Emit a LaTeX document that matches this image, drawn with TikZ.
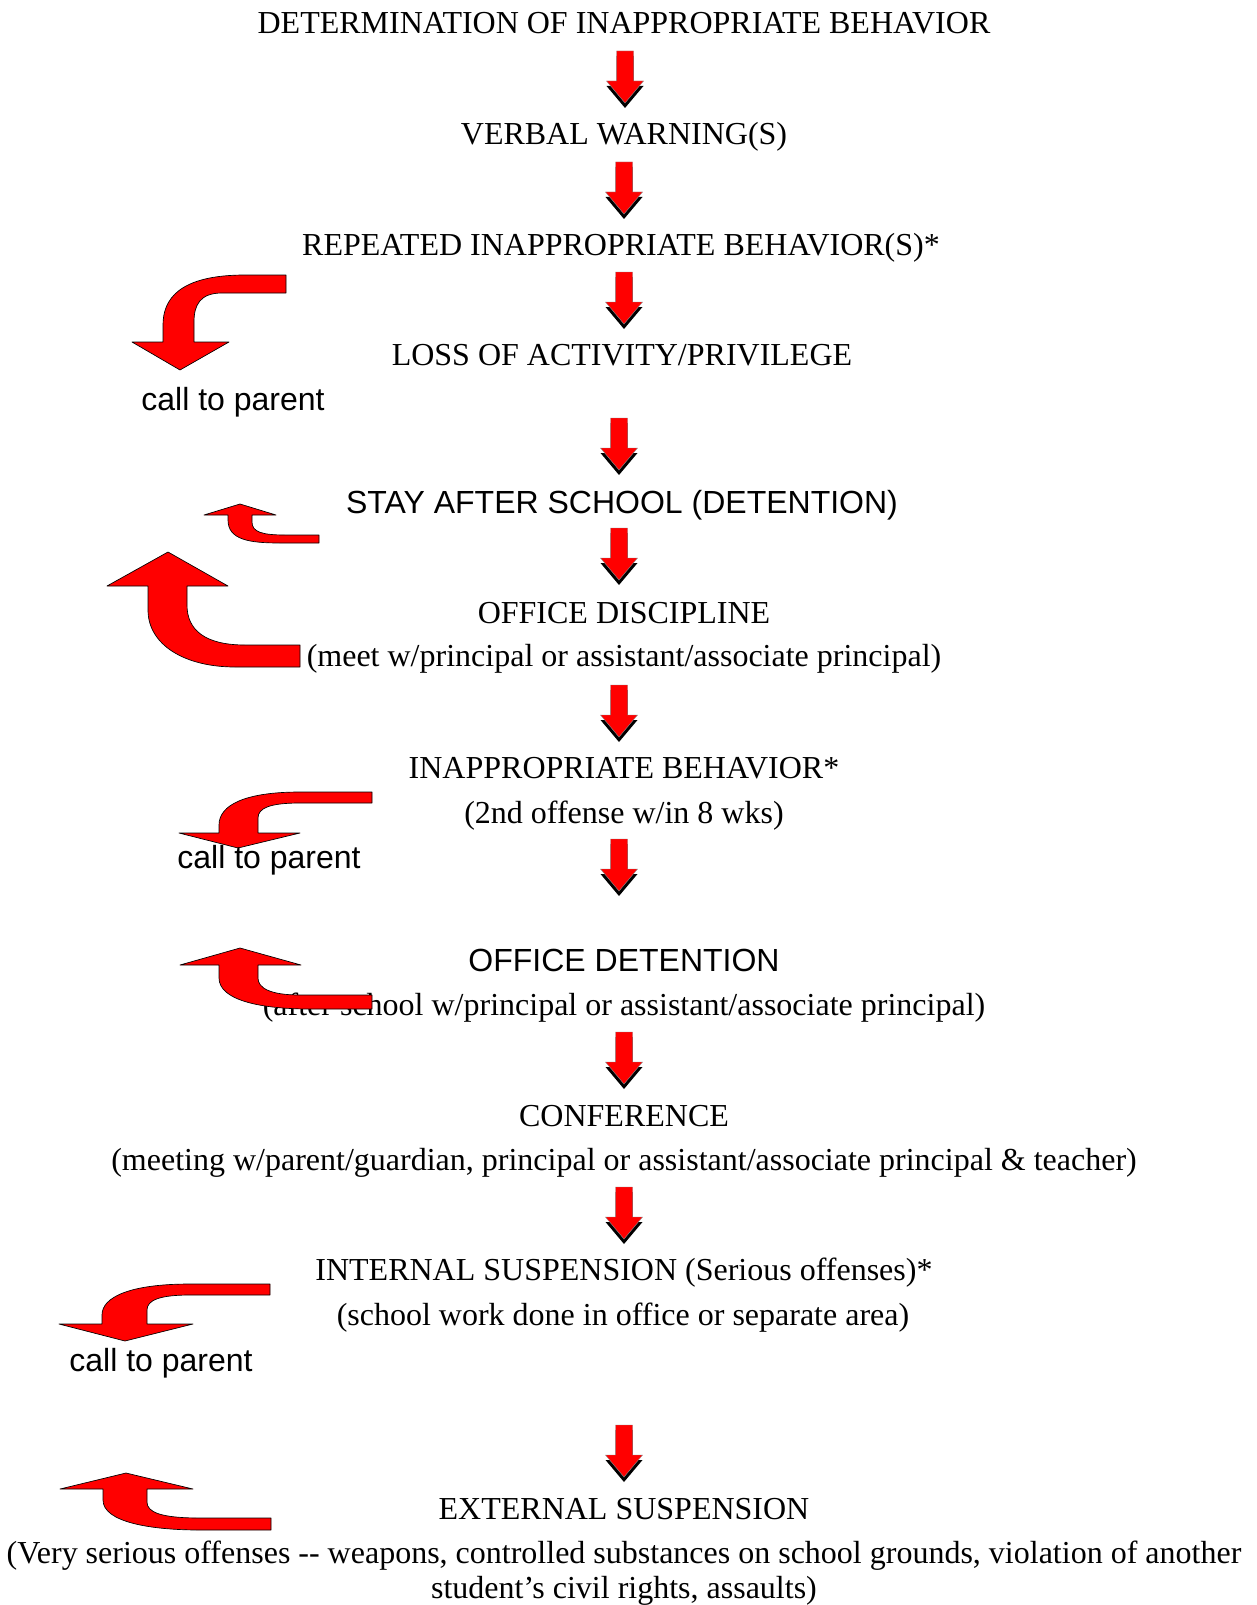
\documentclass[tikz,border=0pt]{standalone}
\usepackage{fontspec}
\setmainfont{Liberation Serif}
\setsansfont{Liberation Sans}
\begin{document}
\begin{tikzpicture}[x=0.75pt,y=-0.75pt,
  lbl/.style={anchor=base, inner sep=0pt, font=\fontsize{24}{28}\selectfont},
  slbl/.style={anchor=base, inner sep=0pt, font=\sffamily\fontsize{24}{28}\selectfont},
  carrow/.style={fill=red, draw=black, line width=0.5pt, line join=round},
  dnarrow/.pic={
    \fill[black] (-8.5,5) -- (8.5,5) -- (8.5,35) -- (18.5,35) -- (0,57) -- (-18.5,35) -- (-8.5,35) -- cycle;
    \filldraw[fill=red, draw=black!45, line width=0.3pt] (-8.5,0) -- (8.5,0) -- (8.5,30) -- (18.5,30) -- (0,52) -- (-18.5,30) -- (-8.5,30) -- cycle;
  }]
\path[use as bounding box, fill=white] (0,0) rectangle (1256,1605);

% ---- main column texts
\node[lbl] (t1) at (624,34) {DETERMINATION OF INAPPROPRIATE BEHAVIOR};
\node[lbl] (t2) at (624,145) {VERBAL WARNING(S)};
\node[lbl] (t3) at (621,256) {REPEATED INAPPROPRIATE BEHAVIOR(S)*};
\node[lbl] (t4) at (622,365) {LOSS OF ACTIVITY/PRIVILEGE};
\node[slbl] (t5) at (622,513) {STAY AFTER SCHOOL (DETENTION)};
\node[lbl] (t6) at (624,623) {OFFICE DISCIPLINE};
\node[lbl] (t6b) at (624,666) {(meet w/principal or assistant/associate principal)};
\node[lbl] (t7) at (624,778) {INAPPROPRIATE BEHAVIOR*};
\node[lbl] (t7b) at (624,823) {(2nd offense w/in 8 wks)};
\node[slbl] (t8) at (624,971) {OFFICE DETENTION};
\node[lbl] (t8b) at (624,1015) {(after school w/principal or assistant/associate principal)};
\node[lbl] (t9) at (624,1126) {CONFERENCE};
\node[lbl] (t9b) at (624,1170) {(meeting w/parent/guardian, principal or assistant/associate principal \& teacher)};
\node[lbl] (t10) at (624,1280) {INTERNAL SUSPENSION (Serious offenses)*};
\node[lbl] (t10b) at (623,1325) {(school work done in office or separate area)};
\node[lbl] (t11) at (624,1519) {EXTERNAL SUSPENSION};
\node[lbl] (t11b) at (624,1563) {(Very serious offenses -{}- weapons, controlled substances on school grounds, violation of another};
\node[lbl] (t11c) at (624,1598) {student’s civil rights, assaults)};

% ---- down block arrows
\pic (d1) at (625,51) {dnarrow};
\pic (d2) at (624,162) {dnarrow};
\pic (d3) at (624,272) {dnarrow};
\pic (d4) at (619,418) {dnarrow};
\pic (d5) at (619,528) {dnarrow};
\pic (d6) at (619,685) {dnarrow};
\pic (d7) at (619,839) {dnarrow};
\pic (d8) at (624,1032) {dnarrow};
\pic (d9) at (624,1187) {dnarrow};
\pic (d10) at (624,1425) {dnarrow};

% ---- curved arrows
% A: down-left near LOSS
\path[carrow] (286,275) -- (245,275) .. controls (178,275) and (163,300) .. (163,325) -- (163,342)
  -- (132,342) -- (180,370) -- (229,342) -- (194,342) -- (194,322)
  .. controls (194,305) and (200,293) .. (222,293) -- (286,293) -- cycle;
\node[slbl] (p1) at (233,410) {call to parent};

% B: small up near STAY
\path[carrow] (319,535) -- (285,535) .. controls (262,535) and (252,532) .. (252,522) -- (252,515)
  -- (276,515) -- (240,504) -- (204,515) -- (228,515) -- (228,520)
  .. controls (228,540) and (250,543) .. (280,543) -- (319,543) -- cycle;

% C: big up near OFFICE DISCIPLINE
\path[carrow] (300,645) -- (245,645) .. controls (205,645) and (187,630) .. (187,605) -- (187,586)
  -- (228,586) -- (168,552) -- (107,586) -- (148,586) -- (148,610)
  .. controls (148,645) and (185,667) .. (235,667) -- (300,667) -- cycle;

% D: down near 2nd offense
\path[carrow] (372,792) -- (300,792) .. controls (245,792) and (219,805) .. (219,825) -- (219,833)
  -- (179,833) -- (238,848) -- (300,833) -- (258,833) -- (258,818)
  .. controls (258,808) and (270,803) .. (300,803) -- (372,803) -- cycle;
\node[slbl] (p2) at (269,868) {call to parent};

% E: up near OFFICE DETENTION (over the text)
\path[carrow] (372,995) -- (300,995) .. controls (270,995) and (258,988) .. (258,978) -- (258,965)
  -- (301,965) -- (240,948) -- (180,965) -- (219,965) -- (219,978)
  .. controls (219,1000) and (260,1009) .. (310,1009) -- (372,1009) -- cycle;

% F: down near INTERNAL
\path[carrow] (270,1284) -- (190,1284) .. controls (130,1284) and (102,1297) .. (102,1315) -- (102,1324)
  -- (59,1324) -- (125,1341) -- (193,1324) -- (147,1324) -- (147,1310)
  .. controls (147,1300) and (160,1295) .. (190,1295) -- (270,1295) -- cycle;
\node[slbl] (p3) at (161,1371) {call to parent};

% G: up near EXTERNAL
\path[carrow] (271,1518) -- (200,1518) .. controls (160,1518) and (147,1512) .. (147,1502) -- (147,1489)
  -- (193,1489) -- (126,1473) -- (60,1489) -- (103,1489) -- (103,1500)
  .. controls (103,1522) and (150,1530) .. (200,1530) -- (271,1530) -- cycle;
\end{tikzpicture}
\end{document}
